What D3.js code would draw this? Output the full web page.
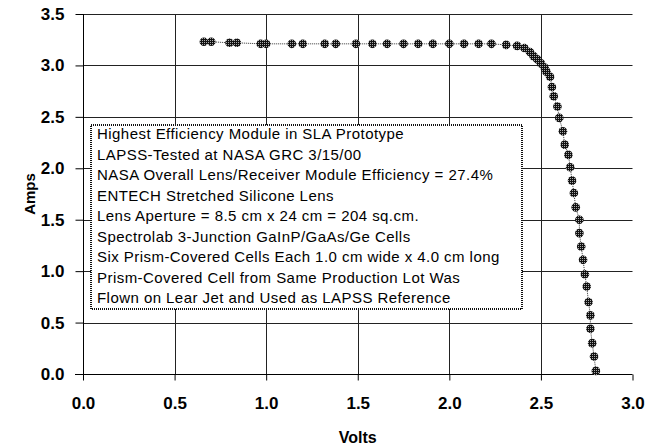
<!DOCTYPE html>
<html><head><meta charset="utf-8">
<script src="https://cdn.jsdelivr.net/npm/d3@7"></script>
<style>
body{margin:0;background:#fff;}
svg{display:block;}
text{font-family:"Liberation Sans",Arial,sans-serif;fill:#000;}
</style></head>
<body><svg id="c" width="650" height="445"></svg>
<script>
const volts = [0.66,0.70,0.80,0.84,0.97,1.00,1.14,1.20,1.32,1.38,1.49,1.58,1.66,1.75,1.83,1.91,2.00,2.08,2.16,2.23,2.31,2.37,2.41,2.44,2.46,2.48,2.50,2.52,2.53,2.55,2.56,2.57,2.59,2.60,2.62,2.63,2.65,2.66,2.67,2.68,2.69,2.71,2.71,2.72,2.73,2.74,2.75,2.76,2.77,2.77,2.78,2.79,2.80];
const amps  = [3.23,3.23,3.22,3.22,3.21,3.21,3.21,3.21,3.21,3.21,3.21,3.21,3.21,3.21,3.21,3.21,3.21,3.21,3.21,3.21,3.20,3.19,3.17,3.13,3.09,3.06,3.02,2.98,2.94,2.89,2.79,2.70,2.60,2.49,2.36,2.23,2.13,2.01,1.88,1.76,1.62,1.50,1.37,1.24,1.11,0.97,0.85,0.70,0.57,0.44,0.30,0.17,0.03];
const xTicks = [0,0.5,1.0,1.5,2.0,2.5,3.0];
const yTicks = [0,0.5,1.0,1.5,2.0,2.5,3.0,3.5];
const notes = [
 "Highest Efficiency Module in SLA Prototype",
 "LAPSS-Tested at NASA GRC 3/15/00",
 "NASA Overall Lens/Receiver Module Efficiency = 27.4%",
 "ENTECH Stretched Silicone Lens",
 "Lens Aperture = 8.5 cm x 24 cm = 204 sq.cm.",
 "Spectrolab 3-Junction GaInP/GaAs/Ge Cells",
 "Six Prism-Covered Cells Each 1.0 cm wide x 4.0 cm long",
 "Prism-Covered Cell from Same Production Lot Was",
 "Flown on Lear Jet and Used as LAPSS Reference"
];
const xLabel = "Volts", yLabel = "Amps";

const svg = d3.select("#c");
const L=83, R=632.5, T=14, B=374;
const x = d3.scaleLinear().domain([0,3]).range([L,R]);
const y = d3.scaleLinear().domain([0,3.5]).range([B,T]);

const defs = svg.append("defs");
const pat = defs.append("pattern").attr("id","chk").attr("width",2).attr("height",2).attr("patternUnits","userSpaceOnUse");
pat.append("rect").attr("width",2).attr("height",2).attr("fill","#111");
pat.append("rect").attr("width",1).attr("height",1).attr("fill","#aaa");

// gridlines
const g = svg.append("g");
g.selectAll("line.h").data(yTicks.filter(d=>d>0)).enter().append("line")
 .attr("x1",L).attr("x2",R).attr("y1",d=>Math.round(y(d))+0.5).attr("y2",d=>Math.round(y(d))+0.5)
 .attr("stroke","#222").attr("stroke-width",1);
g.selectAll("line.v").data(xTicks.filter(d=>d>0&&d<3)).enter().append("line")
 .attr("y1",T).attr("y2",B).attr("x1",d=>Math.round(x(d))+0.5).attr("x2",d=>Math.round(x(d))+0.5)
 .attr("stroke","#222").attr("stroke-width",1);

// axes
const xAxis = d3.axisBottom(x).tickValues(xTicks).tickFormat(d3.format(".1f")).tickSize(6).tickPadding(16);
const yAxis = d3.axisLeft(y).tickValues(yTicks).tickFormat(d3.format(".1f")).tickSize(8).tickPadding(11);
const xa = svg.append("g").attr("transform",`translate(0,${Math.round(B)+0.5})`).call(xAxis);
const ya = svg.append("g").attr("transform",`translate(${Math.round(L)+0.5},0)`).call(yAxis);
[xa,ya].forEach(a=>{
  a.select(".domain").remove();
  a.selectAll("line").attr("stroke","#000");
  a.selectAll("text").attr("font-size",17).attr("font-weight","bold").attr("font-family","Liberation Sans, Arial, sans-serif").attr("fill","#000");
});
svg.append("line").attr("x1",L-8).attr("x2",R).attr("y1",Math.round(B)+0.5).attr("y2",Math.round(B)+0.5).attr("stroke","#000");
svg.append("line").attr("x1",Math.round(L)+0.5).attr("x2",Math.round(L)+0.5).attr("y1",T).attr("y2",B+6).attr("stroke","#000");

// axis titles
svg.append("text").attr("x",(L+R)/2).attr("y",443).attr("text-anchor","middle")
 .attr("font-size",16).attr("font-weight","bold").text(xLabel);
svg.append("text").attr("transform",`translate(35,${(T+B)/2}) rotate(-90)`).attr("text-anchor","middle")
 .attr("font-size",15).attr("font-weight","bold").text(yLabel);

// annotation box
const bx=91, by=125, bw=431, bh=184;
svg.append("rect").attr("x",bx).attr("y",by).attr("width",bw).attr("height",bh)
 .attr("fill","#fff").attr("stroke","#111").attr("stroke-width",2).attr("stroke-dasharray","1 1");
svg.append("g").selectAll("text").data(notes).enter().append("text")
 .attr("x",97).attr("y",(d,i)=>139+i*20.5).attr("font-size",15).attr("letter-spacing",0.45).text(d=>d);

// series
const pts = volts.map((v,i)=>[v,amps[i]]);
svg.append("path").datum(pts).attr("fill","none").attr("stroke","#333").attr("stroke-width",1)
 .attr("stroke-dasharray","1 1").attr("d",d3.line().x(d=>x(d[0])).y(d=>y(d[1])));
svg.append("g").selectAll("circle").data(pts).enter().append("circle")
 .attr("cx",d=>x(d[0])).attr("cy",d=>y(d[1])).attr("r",4.3).attr("fill","url(#chk)");
</script></body></html>
